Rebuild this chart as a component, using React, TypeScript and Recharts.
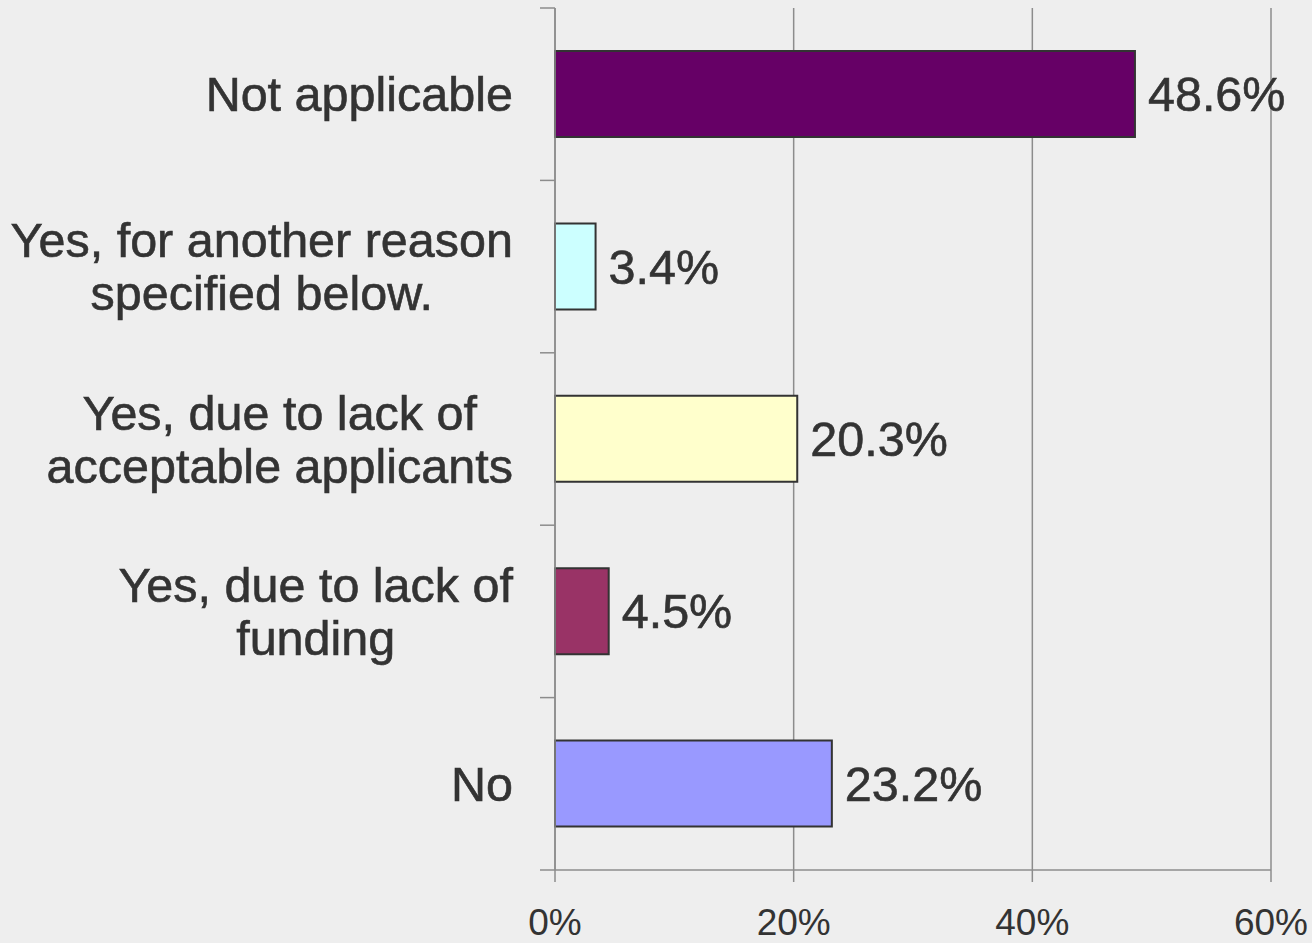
import { Bar, BarChart, CartesianGrid, Cell, LabelList, XAxis, YAxis } from "recharts";

const categories = [
  "Not applicable",
  "Yes, for another reason\nspecified below.",
  "Yes, due to lack of\nacceptable applicants",
  "Yes, due to lack of\nfunding",
  "No",
];
const values = [48.6, 3.4, 20.3, 4.5, 23.2];
const barColors = ["#660066", "#CCFFFF", "#FFFFCC", "#993366", "#9999FF"];
const xTicks = [0, 20, 40, 60];

const FONT_FAMILY = "'Liberation Sans', Arial, sans-serif";
const LABEL_SIZE = 48.5;
const TICK_SIZE = 15;
const TICK_MARGIN = 27;
const AXIS_COLOR = "#8c8c8c";
const TEXT_COLOR = "#333333";

const data = categories.map((name, i) => ({ name, value: values[i] }));

let ctx: CanvasRenderingContext2D | null = null;
const measure = (text: string) => {
  if (!ctx) ctx = document.createElement("canvas").getContext("2d");
  if (!ctx) return text.length * LABEL_SIZE * 0.5;
  ctx.font = `${LABEL_SIZE}px ${FONT_FAMILY}`;
  return ctx.measureText(text).width;
};

function CategoryTick(props: any) {
  const { x, y, payload, index, visibleTicksCount } = props;
  const lines = String(payload.value).split("\n");
  const widest = Math.max(...lines.map(measure));
  const cx = x - widest / 2;
  const lineHeight = 53;
  const startY = y - ((lines.length - 1) * lineHeight) / 2;
  const half = payload.offset ?? 0;
  const x1 = x + TICK_MARGIN;
  const x2 = x1 + TICK_SIZE;
  return (
    <g>
      <line x1={x1} x2={x2} y1={y - half} y2={y - half} stroke={AXIS_COLOR} strokeWidth={1.5} />
      {index === visibleTicksCount - 1 && (
        <line x1={x1} x2={x2} y1={y + half} y2={y + half} stroke={AXIS_COLOR} strokeWidth={1.5} />
      )}
      <text
        textAnchor="middle"
        fill={TEXT_COLOR}
        stroke={TEXT_COLOR}
        strokeWidth={0.6}
        fontSize={LABEL_SIZE}
        fontFamily={FONT_FAMILY}
      >
        {lines.map((line, i) => (
          <tspan key={i} x={cx} y={startY + i * lineHeight} dy="0.355em">
            {line}
          </tspan>
        ))}
      </text>
    </g>
  );
}

export default function App() {
  return (
    <div style={{ width: 1312, height: 943, background: "#eeeeee", fontFamily: FONT_FAMILY }}>
      <style>{"body{margin:0}"}</style>
      <BarChart
        width={1312}
        height={943}
        data={data}
        layout="vertical"
        margin={{ top: 8, right: 41, bottom: 0, left: 0 }}
        barCategoryGap={0}
      >
        <CartesianGrid horizontal={false} vertical stroke={AXIS_COLOR} strokeWidth={1.5} />
        <XAxis
          type="number"
          domain={[0, 60]}
          ticks={xTicks}
          tickFormatter={(v) => `${v}%`}
          height={73}
          tickSize={12}
          tickMargin={27}
          axisLine={{ stroke: AXIS_COLOR, strokeWidth: 1.5 }}
          tickLine={{ stroke: AXIS_COLOR, strokeWidth: 1.5 }}
          tick={{ fill: TEXT_COLOR, fontSize: 37, fontFamily: FONT_FAMILY }}
        />
        <YAxis
          type="category"
          dataKey="name"
          width={555}
          tickSize={TICK_SIZE}
          tickMargin={TICK_MARGIN}
          tickLine={false}
          axisLine={{ stroke: AXIS_COLOR, strokeWidth: 1.5 }}
          tick={<CategoryTick />}
          interval={0}
        />
        <Bar dataKey="value" barSize={86} stroke="#333333" strokeWidth={2} isAnimationActive={false}>
          {data.map((d, i) => (
            <Cell key={d.name} fill={barColors[i]} />
          ))}
          <LabelList
            dataKey="value"
            position="right"
            offset={13}
            formatter={(v: any) => `${Number(v).toFixed(1)}%`}
            fill={TEXT_COLOR}
            stroke={TEXT_COLOR}
            strokeWidth={0.6}
            fontSize={48.5}
            fontFamily={FONT_FAMILY}
          />
        </Bar>
      </BarChart>
    </div>
  );
}
